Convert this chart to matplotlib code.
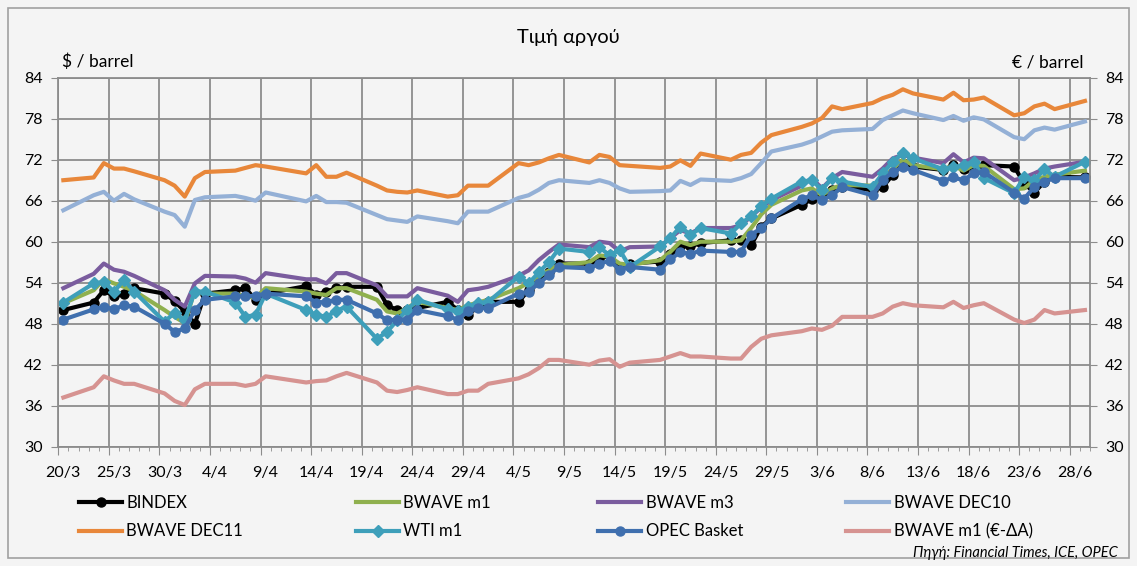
import matplotlib
matplotlib.use('Agg')
import matplotlib.pyplot as plt
import matplotlib.transforms as mtransforms
from matplotlib.patches import Rectangle
from matplotlib.ticker import MultipleLocator

# days since 20/3/2009 (trading days shown in the chart)
day_idx = [0, 3, 4, 5, 6, 7, 10, 11, 12, 13, 14, 17, 18, 19, 20,
           24, 25, 26, 27, 28, 31, 32, 33, 34, 35, 38, 39, 40, 41, 42,
           45, 46, 47, 48, 49, 52, 53, 54, 55, 56, 59, 60, 61, 62, 63,
           66, 67, 68, 69, 70, 73, 74, 75, 76, 77, 80, 81, 82, 83, 84,
           87, 88, 89, 90, 91, 94, 95, 96, 97, 98, 101]

bindex = [50.0, 51.1, 52.9, 52.0, 52.4, 53.2, 52.4, 51.3, 49.8, 48.0, 52.4,
          52.9, 53.2, 51.5, 52.4, 53.5, 52.2, 52.7, 53.2, 53.4,
          53.4, 50.7, 50.0, 50.0, 50.3, 51.2, 50.0, 49.3, 50.5, 51.2,
          51.2, 52.9, 54.6, 55.5, 56.8, 56.8, 57.5, 58.0, 56.3, 56.8,
          57.1, 58.2, 59.3, 59.3, 59.8, 60.2, 60.2, 59.5, 62.2, 63.4,
          65.4, 66.2, 66.8, 67.6, 68.0, 67.6, 68.0, 69.8, 71.5, 71.0,
          70.5, 71.2, 70.7, 71.0, 71.2, 71.0, 68.5, 67.2, 68.8, 69.5, 69.4]

bwave_m1 = [51.0, 52.9, 54.5, 53.9, 53.4, 52.8, 50.0, 49.0, 48.1, 52.9, 52.4,
            52.4, 52.0, 51.8, 53.2, 52.7, 52.4, 52.2, 53.2, 53.2,
            51.5, 49.8, 49.5, 50.3, 51.2, 50.3, 50.0, 50.7, 51.1, 51.5,
            53.2, 54.0, 54.9, 55.8, 56.6, 57.0, 58.0, 57.8, 56.8, 56.6,
            57.3, 58.5, 60.0, 59.5, 60.0, 60.0, 60.2, 62.0, 64.0, 65.4,
            67.5, 67.8, 66.8, 67.8, 68.3, 68.2, 69.2, 70.7, 72.0, 71.2,
            70.6, 71.1, 70.4, 71.2, 71.1, 67.7, 67.8, 69.0, 69.5, 69.8, 70.4]

bwave_m3 = [53.2, 55.3, 56.8, 55.9, 55.6, 55.0, 52.9, 51.5, 50.5, 53.9, 55.0,
            54.9, 54.6, 54.0, 55.4, 54.5, 54.5, 53.9, 55.4, 55.4,
            53.6, 52.0, 52.0, 52.0, 53.2, 52.1, 51.2, 52.9, 53.1, 53.4,
            55.0, 55.8, 57.3, 58.5, 59.6, 59.2, 60.0, 59.8, 58.6, 59.2,
            59.3, 60.5, 61.7, 61.2, 62.0, 62.0, 62.4, 63.7, 65.0, 66.1,
            68.2, 69.3, 67.8, 69.3, 70.2, 69.5, 70.7, 72.2, 72.7, 72.3,
            71.5, 72.8, 71.6, 72.3, 72.2, 69.0, 69.4, 70.0, 70.7, 71.0, 71.7]

bwave_dec10 = [64.6, 66.8, 67.3, 66.0, 67.0, 66.2, 64.4, 63.9, 62.2, 66.1, 66.5,
               66.7, 66.4, 66.0, 67.2, 65.9, 66.7, 65.8, 65.8, 65.7,
               63.9, 63.3, 63.1, 62.9, 63.7, 63.0, 62.7, 64.4, 64.4, 64.4,
               66.4, 66.8, 67.6, 68.6, 69.0, 68.6, 69.0, 68.6, 67.8, 67.3,
               67.4, 67.5, 68.9, 68.3, 69.1, 68.9, 69.3, 69.9, 71.5, 73.2,
               74.2, 74.7, 75.4, 76.1, 76.3, 76.5, 77.8, 78.5, 79.2, 78.8,
               77.8, 78.4, 77.7, 78.2, 77.9, 75.3, 75.0, 76.3, 76.7, 76.4, 77.6]

bwave_dec11 = [69.0, 69.4, 71.5, 70.7, 70.7, 70.3, 69.0, 68.2, 66.6, 69.3, 70.2,
               70.4, 70.8, 71.2, 71.0, 70.0, 71.2, 69.5, 69.5, 70.1,
               68.2, 67.5, 67.3, 67.2, 67.5, 66.6, 66.8, 68.2, 68.2, 68.2,
               71.5, 71.2, 71.6, 72.2, 72.7, 71.6, 72.7, 72.4, 71.2, 71.1,
               70.8, 71.0, 71.9, 71.1, 72.9, 72.0, 72.7, 73.0, 74.5, 75.6,
               76.8, 77.3, 78.1, 79.8, 79.4, 80.3, 81.0, 81.5, 82.3, 81.7,
               80.8, 81.8, 80.7, 80.8, 81.1, 78.5, 78.8, 79.8, 80.2, 79.4, 80.6]

wti_m1 = [51.1, 53.9, 54.1, 52.7, 54.4, 52.7, 48.3, 49.6, 48.5, 52.7, 52.7,
          51.1, 49.0, 49.3, 52.4, 50.0, 49.3, 49.0, 49.9, 50.5,
          45.8, 46.8, 48.5, 50.0, 51.5, 50.1, 49.8, 50.5, 51.0, 51.2,
          54.9, 53.9, 55.5, 57.0, 59.0, 58.5, 59.2, 58.0, 58.8, 56.3,
          59.3, 60.5, 62.2, 61.0, 62.0, 61.2, 62.7, 63.7, 65.2, 66.3,
          68.8, 69.0, 67.6, 69.3, 68.8, 68.0, 70.0, 71.7, 73.0, 72.2,
          70.6, 70.9, 71.2, 71.7, 69.3, 67.1, 69.5, 69.0, 70.6, 69.5, 71.7]

opec_basket = [48.6, 50.1, 50.5, 50.1, 50.7, 50.5, 48.0, 46.8, 47.3, 50.0, 51.5,
               52.0, 52.0, 52.1, 52.4, 52.0, 51.1, 51.2, 51.5, 51.5,
               49.5, 48.5, 48.6, 48.6, 50.0, 49.1, 48.6, 49.8, 50.3, 50.3,
               52.4, 52.7, 53.9, 55.1, 56.3, 56.1, 56.8, 57.2, 55.9, 56.3,
               55.9, 57.4, 58.5, 58.2, 58.7, 58.5, 58.5, 61.0, 62.0, 63.4,
               66.2, 66.8, 66.1, 66.8, 68.0, 66.8, 69.0, 70.2, 70.9, 70.5,
               68.9, 69.4, 69.0, 70.0, 70.2, 67.2, 66.3, 68.0, 68.8, 69.3, 69.3]

bwave_m1_eur = [37.2, 38.7, 40.3, 39.7, 39.2, 39.2, 37.8, 36.7, 36.1, 38.4, 39.2,
                39.2, 38.9, 39.2, 40.3, 39.4, 39.6, 39.7, 40.3, 40.8,
                39.4, 38.2, 38.0, 38.3, 38.7, 37.7, 37.7, 38.2, 38.2, 39.2,
                40.0, 40.6, 41.5, 42.7, 42.7, 42.0, 42.6, 42.8, 41.7, 42.3,
                42.7, 43.2, 43.7, 43.2, 43.2, 42.9, 42.9, 44.6, 45.8, 46.3,
                46.9, 47.3, 47.1, 47.7, 49.0, 49.0, 49.5, 50.5, 51.0, 50.7,
                50.4, 51.2, 50.3, 50.7, 51.0, 48.6, 48.1, 48.6, 50.0, 49.5, 50.0]

series_names = ['BINDEX', 'BWAVE m1', 'BWAVE m3', 'BWAVE DEC10',
                'BWAVE DEC11', 'WTI m1', 'OPEC Basket', 'BWAVE m1 (€-ΔΑ)']
series_vals = [bindex, bwave_m1, bwave_m3, bwave_dec10,
               bwave_dec11, wti_m1, opec_basket, bwave_m1_eur]
series_colors = ['#000000', '#8fb04e', '#7a5c9e', '#94b0d6',
                 '#e8873a', '#3e9fba', '#3f6fae', '#d69391']
series_markers = ['o', None, None, None, None, 'D', 'o', None]

tick_days = list(range(0, 101, 5))
tick_labels = ['20/3', '25/3', '30/3', '4/4', '9/4', '14/4', '19/4', '24/4',
               '29/4', '4/5', '9/5', '14/5', '19/5', '24/5', '29/5', '3/6',
               '8/6', '13/6', '18/6', '23/6', '28/6']
y_ticks = list(range(30, 85, 6))

plt.rcParams['font.family'] = ['Lato', 'Noto Sans', 'DejaVu Sans']

W, H = 1137, 566
bg = '#f4f4f4'
grid_c = '#8c8c8c'
fig = plt.figure(figsize=(W / 100, H / 100), dpi=100, facecolor=bg)
ax = fig.add_axes([58.3 / W, 1 - 446.7 / H, (1090 - 58.3) / W, (446.7 - 77.7) / H])
ax.set_facecolor(bg)

# each point sits in the middle of its day slot
xs = [d + 0.5 for d in day_idx]
lines = []
for name, vals, col, mk in zip(series_names, series_vals, series_colors, series_markers):
    ms = 6.5 if mk == 'o' else 6
    ln, = ax.plot(xs, vals, color=col, lw=3, marker=mk, ms=ms,
                  mec=col, mfc=col, label=name, solid_joinstyle='round')
    lines.append(ln)

ax.set_xlim(0, 102)
ax.set_ylim(30, 84)
ax.set_xticks(tick_days)
ax.set_xticklabels(tick_labels, fontsize=11.5)
ax.xaxis.set_minor_locator(MultipleLocator(1))
ax.set_yticks(y_ticks)
ax.tick_params(axis='y', labelsize=11.5, length=5, color=grid_c, pad=6)
ax.tick_params(axis='x', which='major', length=6, color=grid_c, pad=8)
ax.tick_params(axis='x', which='minor', length=3, color=grid_c)
ax.grid(True, which='major', color=grid_c, lw=1.3)
ax.set_axisbelow(True)
for s in ax.spines.values():
    s.set_color(grid_c)
    s.set_linewidth(1.3)

# shift date labels half a day right, under the data points
off = mtransforms.ScaledTranslation(5 / 100, 0, fig.dpi_scale_trans)
for lab in ax.get_xticklabels():
    lab.set_transform(lab.get_transform() + off)

ax2 = ax.twinx()
ax2.set_ylim(30, 84)
ax2.set_yticks(y_ticks)
ax2.tick_params(axis='y', labelsize=11.5, length=5, color=grid_c, pad=6)
for s in ax2.spines.values():
    s.set_visible(False)

fig.text(568 / W, 1 - 38 / H, 'Τιμή αργού', ha='center', va='center', fontsize=14.5)
fig.text(62 / W, 1 - 62 / H, r'\$ / barrel', ha='left', va='center', fontsize=12.5)
fig.text(1084 / W, 1 - 62 / H, '€ / barrel', ha='right', va='center', fontsize=12.5)

leg_x = [79, 356, 598, 846]
for c in range(4):
    fig.legend([lines[c], lines[c + 4]], [series_names[c], series_names[c + 4]],
               loc='upper left', bbox_to_anchor=(leg_x[c] / W, 1 - 495 / H),
               frameon=False, handlelength=2.6, handletextpad=0.25, borderpad=0,
               borderaxespad=0, labelspacing=0.75, fontsize=12)

fig.text(1118 / W, 1 - 553 / H, 'Πηγή: Financial Times, ICE, OPEC',
         ha='right', va='center', style='italic', fontsize=10.5)

fig.patches.append(Rectangle((8 / W, 8 / H), 1 - 16 / W, 1 - 16 / H,
                             transform=fig.transFigure, fill=False,
                             ec='#a0a0a0', lw=1.2))

fig.savefig('out.png', dpi=100, facecolor=bg)
